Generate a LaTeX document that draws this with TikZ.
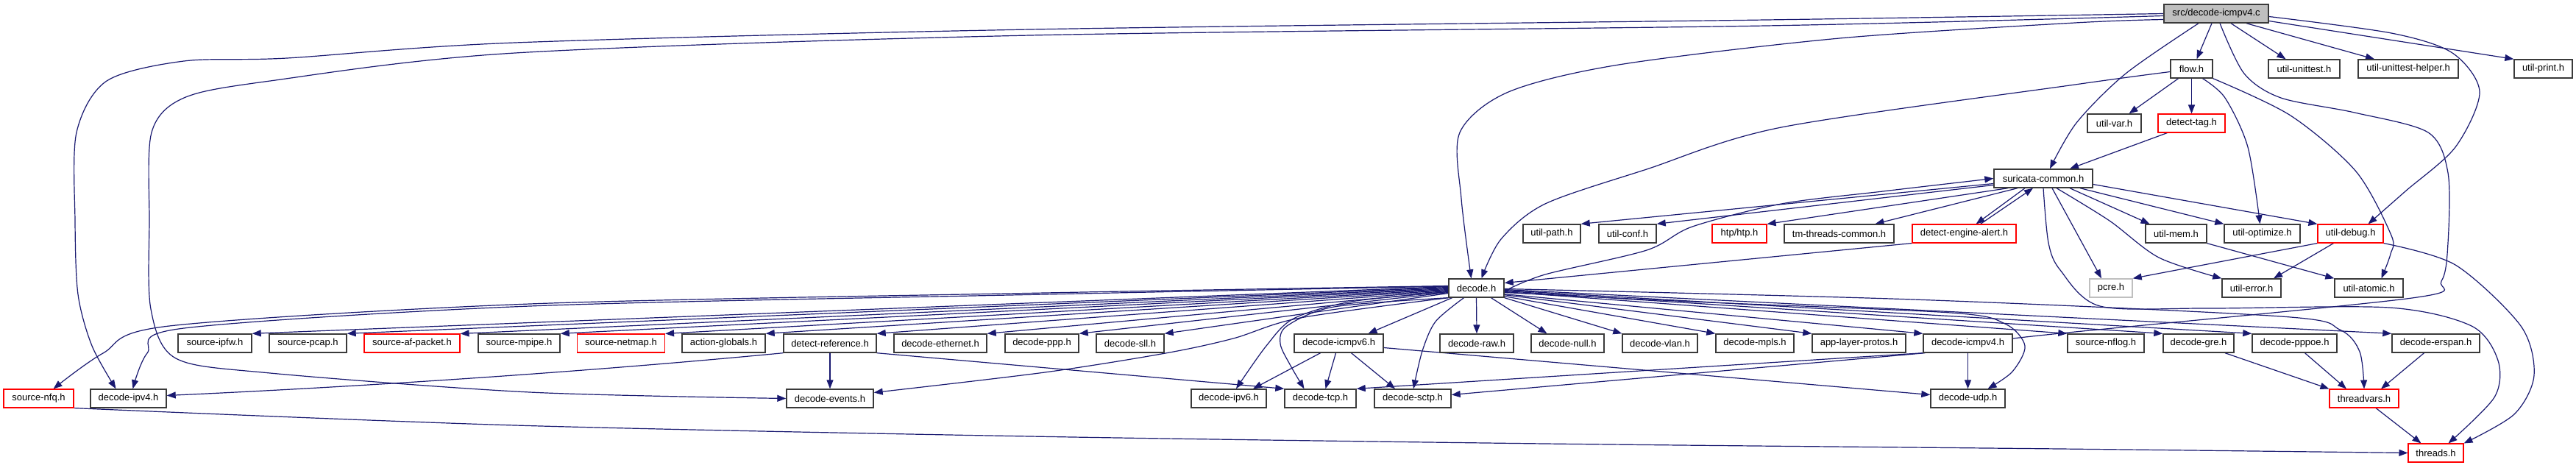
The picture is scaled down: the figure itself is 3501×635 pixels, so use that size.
\documentclass[tikz,border=0pt]{standalone}
\usepackage{fontspec}
\setmainfont{Liberation Sans}
\usetikzlibrary{arrows.meta,backgrounds}
\definecolor{edgecol}{HTML}{191970}
\definecolor{boxcol}{HTML}{3A3A3A}
\definecolor{graycol}{HTML}{BFBFBF}
\definecolor{redcol}{HTML}{FF0000}
\begin{document}
\begin{tikzpicture}[x=1pt,y=-1pt,
  box/.style={draw=boxcol, line width=1.4pt, minimum height=25pt, inner sep=0pt, fill=white, font=\fontsize{13}{15}\selectfont},
  redbox/.style={box, draw=redcol, line width=1.1pt},
  e/.style={draw=edgecol, line width=1.2pt, -{Triangle[length=12pt,width=9pt]}},
  sm/.style={smooth, tension=0.5}]
\useasboundingbox (0,0) rectangle (3501,635);
% row 1
\node[box, fill=graycol, minimum width=142pt] (S) at (3012,18.5) {src/decode-icmpv4.c};
% row 2
\node[box, minimum width=57pt] (flow) at (2978.5,93.5) {flow.h};
\node[box, minimum width=97pt] (ut) at (3131.5,93.5) {util-unittest.h};
\node[box, minimum width=136pt] (uth) at (3273,93.5) {util-unittest-helper.h};
\node[box, minimum width=79pt] (up) at (3456.5,93.5) {util-print.h};
% row 3
\node[box, minimum width=73pt] (uvar) at (2873.5,167.5) {util-var.h};
\node[redbox, minimum width=91pt] (dtag) at (2978.5,167.5) {detect-tag.h};
% row 4
\node[box, minimum width=134pt] (sc) at (2777,242.5) {suricata-common.h};
% row 5
\node[box, minimum width=78pt] (upath) at (2109,317.5) {util-path.h};
\node[box, minimum width=78pt] (uconf) at (2212,317.5) {util-conf.h};
\node[redbox, minimum width=74pt] (htp) at (2364,317.5) {htp/htp.h};
\node[box, minimum width=149pt] (tmc) at (2499.5,317.5) {tm-threads-common.h};
\node[redbox, minimum width=141pt] (dea) at (2669.5,317.5) {detect-engine-alert.h};
\node[box, minimum width=83pt] (umem) at (2957.5,317.5) {util-mem.h};
\node[box, minimum width=103pt] (uopt) at (3074.5,317.5) {util-optimize.h};
\node[redbox, minimum width=89pt] (udbg) at (3194.5,317.5) {util-debug.h};
% row 6
\node[box, minimum width=75pt] (D) at (2006.5,391.5) {decode.h};
\node[box, draw=graycol, minimum width=58pt] (pcre) at (2869,391.5) {pcre.h};
\node[box, minimum width=80pt] (uerr) at (3060,391.5) {util-error.h};
\node[box, minimum width=93pt] (uat) at (3219.5,391.5) {util-atomic.h};
% row 7
\node[box, minimum width=100pt] (ipfw) at (292,466.5) {source-ipfw.h};
\node[box, minimum width=105pt] (pcap) at (418.5,466.5) {source-pcap.h};
\node[redbox, minimum width=130pt] (afp) at (560,466.5) {source-af-packet.h};
\node[box, minimum width=111pt] (mpipe) at (705.5,466.5) {source-mpipe.h};
\node[redbox, minimum width=119pt] (netmap) at (844,466.5) {source-netmap.h};
\node[box, minimum width=113pt] (ag) at (983.5,466.5) {action-globals.h};
\node[box, minimum width=126pt] (dref) at (1128,466.5) {detect-reference.h};
\node[box, minimum width=126pt] (eth) at (1278,466.5) {decode-ethernet.h};
\node[box, minimum width=100pt] (ppp) at (1416,466.5) {decode-ppp.h};
\node[box, minimum width=92pt] (sll) at (1536,466.5) {decode-sll.h};
\node[box, minimum width=121pt] (i6) at (1819.5,466.5) {decode-icmpv6.h};
\node[box, minimum width=100pt] (raw) at (2007,466.5) {decode-raw.h};
\node[box, minimum width=99pt] (null) at (2130.5,466.5) {decode-null.h};
\node[box, minimum width=102pt] (vlan) at (2256,466.5) {decode-vlan.h};
\node[box, minimum width=106pt] (mpls) at (2385,466.5) {decode-mpls.h};
\node[box, minimum width=127pt] (alp) at (2526.5,466.5) {app-layer-protos.h};
\node[box, minimum width=121pt] (i4) at (2674.5,466.5) {decode-icmpv4.h};
\node[box, minimum width=104pt] (nflog) at (2862,466.5) {source-nflog.h};
\node[box, minimum width=96pt] (gre) at (2988,466.5) {decode-gre.h};
\node[box, minimum width=115pt] (pppoe) at (3118.5,466.5) {decode-pppoe.h};
\node[box, minimum width=119pt] (erspan) at (3310.5,466.5) {decode-erspan.h};
% row 8
\node[redbox, minimum width=95pt] (nfq) at (52.5,541.5) {source-nfq.h};
\node[box, minimum width=103pt] (ipv4) at (174.5,541.5) {decode-ipv4.h};
\node[box, minimum width=118pt] (events) at (1128,541.5) {decode-events.h};
\node[box, minimum width=102pt] (ipv6) at (1670,541.5) {decode-ipv6.h};
\node[box, minimum width=97pt] (tcp) at (1794.5,541.5) {decode-tcp.h};
\node[box, minimum width=104pt] (sctp) at (1920,541.5) {decode-sctp.h};
\node[box, minimum width=101pt] (udp) at (2674.5,541.5) {decode-udp.h};
\node[redbox, minimum width=94pt] (tv) at (3213,541.5) {threadvars.h};
% row 9
\node[redbox, minimum width=75pt] (thr) at (3310.5,615.5) {threads.h};

\begin{scope}[on background layer]
% from src/decode-icmpv4.c
\draw[e] plot[sm] coordinates {(S.west) (2400,27) (1400,40) (700,58) (390,79) (250,83) (145,110) (104,180) (102,300) (106,400) (125,470) ([xshift=-17]ipv4.north)};
\draw[e] plot[sm] coordinates {([yshift=-3]S.west) (2400,35) (1400,48) (700,72) (367,110) (250,133) (206,180) (203,300) (205,420) (239,487) (367,507) (720,533) (events.west)};
\draw[e] plot[sm] coordinates {([yshift=-8]S.west) (2820,31) (2500,52) (2200,88) (2050,125) (1984,180) (1986,270) ([xshift=-7]D.north)};
\draw[e] plot[sm] coordinates {([xshift=-24]S.south) (2889,100) (2822,167) ([xshift=9]sc.north)};
\draw[e] ([xshift=-6]S.south) -- ([xshift=7]flow.north);
\draw[e] ([xshift=20]S.south) -- ([xshift=-25]ut.north);
\draw[e] ([xshift=41]S.south) -- ([xshift=-46]uth.north);
\draw[e] ([yshift=-10]S.east) -- (up.north west);
\draw[e] plot[sm] coordinates {([yshift=-4]S.east) (3250,45) (3333,72) (3370,125) (3337,200) (3269,260) ([xshift=24]udbg.north)};
\draw[e] plot[sm] coordinates {([xshift=5]S.south) (3050,100) (3100,133) (3200,153) (3300,180) (3327,235) (3327,330) (3318,382) (3278,405) (2800,453) ([yshift=6]i4.east)};
% flow.h
\draw[e] plot[sm] coordinates {([yshift=-4]flow.west) (2820,115) (2421,173) (2238,230) (2100,277) (2040,325) ([xshift=7]D.north)};
\draw[e] ([xshift=-18]flow.south) -- ([xshift=20]uvar.north);
\draw[e] (flow.south) -- (dtag.north);
\draw[e] plot[sm] coordinates {([xshift=15]flow.south) (3024,133) (3055,200) ([xshift=-3]uopt.north)};
\draw[e] plot[sm] coordinates {(flow.south east) (3113,157) (3202,233) (3250,320) (3249,345) ([xshift=17]uat.north)};
\draw[e] ([xshift=-33]dtag.south) -- ([xshift=36]sc.north);
% suricata-common.h
\draw[e] ([yshift=-7]sc.west) -- (upath.north east);
\draw[e] ([yshift=-9]sc.west) -- (uconf.north east);
\draw[e] ([xshift=-48]sc.south) -- (htp.north east);
\draw[e] ([xshift=-35]sc.south) -- ([xshift=49]tmc.north);
\draw[e] ([xshift=-25]sc.south) -- ([xshift=16]dea.north);
\draw[e] ([xshift=22]dea.north) -- ([xshift=-14]sc.south);
\draw[e] ([xshift=36]sc.south) -- ([xshift=-36]umem.north);
\draw[e] ([xshift=50]sc.south) -- (uopt.north west);
\draw[e] ([yshift=-8]sc.east) -- (udbg.north west);
\draw[e] ([xshift=12]sc.south) -- ([xshift=-13]pcre.north);
\draw[e] plot[sm] coordinates {([xshift=18]sc.south) (2867,300) (2934,350) (uerr.north west)};
\draw[e] plot[sm] coordinates {(sc.south) (2784,330) (2800,367) (2854,416) (3000,419) (3247,418) (3359,443) (3395,490) (3390,540) ([xshift=17]thr.north)};
% util-debug.h, util-mem.h
\draw[e] plot[sm] coordinates {(udbg.south east) (3337,360) (3426,443) (3444,510) (3417,563) (thr.north east)};
\draw[e] (udbg.south west) -- (pcre.north east);
\draw[e] ([xshift=-23]udbg.south) -- ([xshift=30]uerr.north);
\draw[e] (umem.south east) -- (uat.north west);
% decode.h to the left
\draw[e] ([yshift=2]D.west) -- (ipfw.north east);
\draw[e] ([yshift=1]D.west) -- (pcap.north east);
\draw[e] ([yshift=0]D.west) -- (afp.north east);
\draw[e] ([yshift=-1]D.west) -- (mpipe.north east);
\draw[e] ([yshift=-2]D.west) -- (netmap.north east);
\draw[e] ([yshift=-3]D.west) -- (ag.north east);
\draw[e] ([yshift=-4]D.west) -- (dref.north east);
\draw[e] ([yshift=-5]D.west) -- (eth.north east);
\draw[e] ([yshift=-6]D.west) -- (ppp.north east);
\draw[e] ([yshift=-7]D.west) -- (sll.north east);
\draw[e] plot[sm] coordinates {([yshift=3]D.west) (1420,398) (720,413) (230,443) (140,480) ([xshift=20]nfq.north)};
\draw[e] plot[sm] coordinates {([yshift=2.5]D.west) (1420,400) (720,416) (250,446) (200,480) ([xshift=6]ipv4.north)};
\draw[e] plot[sm] coordinates {(D.south west) (1767,432) (1676,460) (1584,480) (1420,506) ([yshift=8]events.east)};
\draw[e] plot[sm] coordinates {([yshift=-5]D.west) (1836,410) (1758,433) (1721,470) ([xshift=10]ipv6.north)};
\draw[e] plot[sm] coordinates {(D.south west) (1813,417) (1749,443) (1740,467) (1754,497) ([xshift=-22]tcp.north)};
\draw[e] plot[sm] coordinates {([xshift=-17]D.south) (1951,437) (1933,477) ([xshift=1]sctp.north)};
\draw[e] ([xshift=-33]D.south) -- ([xshift=40]i6.north);
\draw[e] (D.south) -- (raw.north);
\draw[e] ([xshift=20]D.south) -- ([xshift=-28]null.north);
% decode.h to the right
\draw[e] (D.south east) -- (vlan.north west);
\draw[e] ([yshift=2]D.south east) -- (mpls.north west);
\draw[e] ([yshift=4]D.south east) -- (alp.north west);
\draw[e] ([yshift=5]D.south east) -- (i4.north west);
\draw[e] ([yshift=-5]D.east) -- (nflog.north west);
\draw[e] ([yshift=-4]D.east) -- (gre.north west);
\draw[e] ([yshift=-3]D.east) -- (pppoe.north west);
\draw[e] ([yshift=-2]D.east) -- (erspan.north west);
\draw[e] plot[sm] coordinates {([yshift=-1]D.east) (2600,407) (3100,430) (3180,448) (3207,478) (tv.north)};
\draw[e] plot[sm] coordinates {([yshift=-6]D.east) (2300,410) (2651,425) (2725,440) (2752,470) (2735,505) ([xshift=27]udp.north)};
\draw[e] (dea.south west) -- ([yshift=7]D.east);
\draw[e] plot[sm] coordinates {([yshift=-4]D.east) (2100,373) (2238,340) (2300,308) (2421,277) (2559,260) (sc.west)};
% row 7 sources
\draw[e] (i4.south) -- (udp.north);
\draw[e] (i4.south west) -- (tcp.north east);
\draw[e] ([xshift=3]i4.south west) -- ([yshift=5]sctp.east);
\draw[e] ([xshift=-25]i6.south) -- ([xshift=33]ipv6.north);
\draw[e] ([xshift=-4]i6.south) -- ([xshift=7]tcp.north);
\draw[e] ([xshift=17]i6.south) -- ([xshift=-24]sctp.north);
\draw[e] ([yshift=-6]i6.east) -- ([yshift=5]udp.west);
\draw[e] (dref.south) -- (events.north);
\draw[e] (dref.south west) .. controls (800,505) and (500,525) .. ([yshift=4]ipv4.east);
\draw[e] (dref.south east) -- (tcp.north west);
\draw[e] ([xshift=36]gre.south) -- (tv.north west);
\draw[e] ([xshift=14]pppoe.south) -- ([xshift=-24]tv.north);
\draw[e] ([xshift=-16]erspan.south) -- ([xshift=23]tv.north);
\draw[e] ([xshift=16]tv.south) -- ([xshift=-20]thr.north);
\draw[e] plot[sm] coordinates {(nfq.south east) (700,578) (1400,593) (2100,603) (2800,610) (thr.west)};
\end{scope}
\end{tikzpicture}
\end{document}
